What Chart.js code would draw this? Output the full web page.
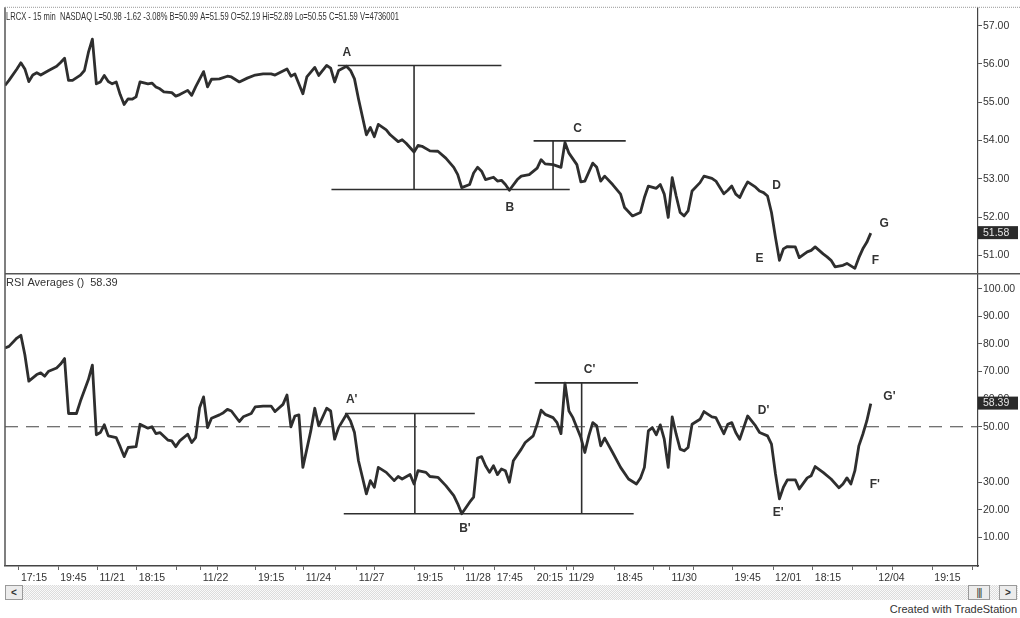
<!DOCTYPE html>
<html>
<head>
<meta charset="utf-8">
<title>LRCX - 15 min with RSI Averages</title>
<script src="https://cdn.jsdelivr.net/npm/chart.js@4.4.1/dist/chart.umd.min.js"></script>
<style>
  body { margin: 0; background: #fff; font-family: "Liberation Sans", Arial, sans-serif; }
  #wrap { position: relative; width: 1020px; height: 618px; overflow: hidden; }
  #chart { position: absolute; left: 0; top: 0; }
  #scroll { position: absolute; left: 5px; top: 585px; width: 1013px; height: 15px;
            background: repeating-conic-gradient(#dcdcdc 0 25%, #fafafa 0 50%) 0 0 / 2px 2px; }
  .btn { position: absolute; top: 0; width: 16px; height: 13px; border: 1px solid #9a9a9a;
         background: #ececec; font: bold 10px "Liberation Sans", Arial, sans-serif; color: #333;
         text-align: center; line-height: 13px; }
  #credit { position: absolute; right: 3px; top: 603px; font-size: 11px; color: #333; }
</style>
</head>
<body>
<div id="wrap">
  <canvas id="chart" width="1020" height="583"></canvas>
  <div id="scroll">
    <div class="btn" style="left:0">&lt;</div>
    <div class="btn" style="left:963px;width:20px;font-weight:normal;letter-spacing:-1px">|||</div>
    <div class="btn" style="left:994px">&gt;</div>
  </div>
  <div id="credit">Created with TradeStation</div>
</div>
<script>
// 15 min bars, numbered from the left edge of the chart
var priceBars = [0, 1, 3, 4, 5, 6, 7, 8, 9, 11, 13, 14, 15, 16, 17, 19, 20, 21, 22, 23,
    24, 25, 26, 27, 28, 29, 30, 31, 32, 33, 34, 36, 37, 38, 39, 40, 42, 43, 44, 46,
    47, 48, 50, 51, 52, 54, 56, 57, 59, 61, 63, 65, 67, 68, 71, 72, 73, 75, 76, 78,
    79, 81, 82, 83, 84, 86, 87, 88, 89, 91, 92, 93, 94, 96, 97, 99, 100, 101, 103, 104,
    105, 107, 109, 111, 113, 114, 115, 117, 118, 119, 120, 121, 123, 124, 125, 126, 127, 129, 130, 132,
    134, 135, 136, 138, 140, 141, 142, 144, 145, 146, 148, 149, 150, 151, 153, 155, 156, 158, 160, 161,
    162, 164, 165, 166, 167, 168, 169, 170, 171, 172, 173, 175, 176, 178, 179, 181, 182, 183, 184, 185,
    186, 187, 189, 190, 191, 192, 193, 194, 195, 196, 197, 199, 200, 202, 203, 204, 206, 207, 208, 209,
    211, 212, 214, 215, 216, 217, 218];
var priceClose = [55.44, 55.57, 55.87, 56.03, 55.87, 55.54, 55.71, 55.77, 55.71, 55.83, 55.94, 56.04, 56.15, 55.57, 55.57, 55.71, 55.83, 56.30, 56.65, 55.48,
    55.53, 55.70, 55.54, 55.48, 55.53, 55.20, 54.94, 55.09, 55.08, 55.14, 55.53, 55.48, 55.50, 55.40, 55.35, 55.27, 55.25, 55.16, 55.20, 55.31,
    55.18, 55.40, 55.80, 55.40, 55.60, 55.61, 55.68, 55.66, 55.53, 55.63, 55.71, 55.74, 55.74, 55.71, 55.87, 55.68, 55.74, 55.22, 55.66, 55.91,
    55.70, 55.96, 55.89, 55.53, 55.83, 55.94, 55.83, 55.61, 55.09, 54.15, 54.34, 54.10, 54.42, 54.28, 54.15, 53.97, 54.02, 53.93, 53.70, 53.87,
    53.85, 53.73, 53.72, 53.54, 53.30, 53.11, 52.77, 52.85, 53.15, 53.30, 53.20, 52.98, 53.04, 52.94, 52.96, 52.85, 52.70, 52.98, 53.07, 53.11,
    53.28, 53.50, 53.39, 53.37, 53.30, 53.95, 53.67, 53.37, 52.92, 52.94, 53.41, 53.30, 52.94, 53.07, 52.85, 52.60, 52.25, 52.03, 52.12, 52.51,
    52.81, 52.75, 52.85, 52.60, 51.99, 53.03, 52.55, 52.12, 52.03, 52.16, 52.68, 52.90, 53.07, 53.01, 52.94, 52.61, 52.70, 52.81, 52.60, 52.51,
    52.73, 52.92, 52.78, 52.68, 52.64, 52.55, 52.12, 51.47, 50.87, 51.17, 51.23, 51.22, 50.94, 51.09, 51.13, 51.22, 51.04, 50.96, 50.87, 50.70,
    50.74, 50.79, 50.66, 50.94, 51.17, 51.34, 51.58];

var rsiBars = [0, 1, 3, 4, 5, 6, 8, 9, 10, 11, 13, 14, 15, 16, 18, 19, 21, 22, 23, 24,
    25, 26, 28, 29, 30, 31, 33, 34, 36, 37, 38, 39, 41, 42, 43, 44, 46, 47, 48, 49,
    50, 51, 52, 54, 55, 56, 57, 59, 60, 62, 63, 65, 67, 68, 70, 71, 72, 73, 74, 75,
    77, 78, 79, 81, 82, 83, 84, 86, 87, 88, 89, 91, 92, 93, 94, 96, 98, 99, 100, 102,
    103, 104, 106, 107, 109, 111, 113, 114, 115, 117, 118, 119, 120, 121, 122, 123, 124, 125, 126, 127,
    128, 130, 131, 133, 134, 135, 136, 138, 139, 140, 141, 142, 143, 145, 146, 147, 148, 149, 150, 151,
    153, 155, 157, 159, 160, 161, 162, 163, 164, 165, 166, 167, 168, 169, 170, 171, 172, 173, 175, 176,
    178, 179, 181, 182, 183, 184, 185, 186, 187, 189, 190, 192, 193, 194, 195, 196, 197, 199, 200, 202,
    203, 204, 206, 208, 210, 211, 212, 213, 214, 215, 216, 217, 218];
var rsiValue = [78.5, 79.1, 82.1, 83.1, 76.1, 66.5, 68.9, 69.5, 68.3, 70.1, 71.3, 72.7, 74.7, 54.8, 54.8, 59.3, 67.1, 72.3, 47.1, 47.9,
    50.7, 46.7, 46.1, 42.8, 39.2, 42.5, 42.8, 50.9, 49.5, 50.0, 47.5, 47.9, 45.2, 44.9, 42.8, 44.9, 47.3, 44.3, 46.1, 56.9,
    60.8, 49.7, 53.1, 54.3, 55.1, 56.3, 55.7, 51.9, 53.6, 54.8, 57.2, 57.5, 57.5, 55.5, 58.1, 61.5, 50.0, 53.9, 54.3, 35.3,
    48.5, 56.7, 50.3, 56.7, 55.7, 45.5, 49.7, 54.5, 52.1, 47.9, 37.7, 25.7, 30.5, 28.1, 35.3, 33.5, 30.5, 32.0, 31.1, 32.7,
    29.3, 34.1, 33.5, 32.0, 31.7, 28.7, 25.1, 22.1, 18.5, 22.7, 24.5, 38.7, 39.2, 35.9, 33.5, 35.9, 32.7, 34.7, 34.1, 29.9,
    37.7, 41.9, 44.3, 46.7, 50.9, 56.0, 54.5, 53.3, 51.5, 47.5, 65.8, 55.7, 53.3, 46.1, 40.7, 46.7, 51.5, 50.3, 43.1, 45.9,
    40.7, 35.3, 31.1, 29.3, 31.4, 35.3, 48.5, 49.7, 47.1, 50.7, 45.5, 35.3, 53.6, 47.3, 41.9, 41.3, 42.5, 50.9, 52.7, 55.5,
    53.6, 53.3, 47.5, 50.9, 51.5, 47.9, 45.5, 49.7, 53.9, 50.3, 47.9, 46.7, 43.7, 33.0, 23.9, 28.1, 30.8, 30.8, 27.5, 31.5,
    32.3, 35.6, 33.5, 31.1, 27.9, 29.3, 31.5, 29.3, 34.1, 43.1, 47.3, 52.1, 58.39];

// time axis: tick positions (bars) and their labels
var timeTickBars = [3.5, 13.4, 23.3, 33.2, 43.2, 49.3, 53.4, 63.2, 73.2, 75.2, 83.1, 88.6, 93.1, 103.2, 113.3, 115.4,
    123.3, 133.4, 141.4, 143.2, 153.5, 163.4, 167.3, 173.3, 183.2, 193.4, 203.4, 213.4, 219.4, 223.5, 233.5, 243.5];
var timeTickLabels = ['17:15', '19:45', '11/21', '18:15', '', '11/22', '', '19:15', '', '11/24', '', '11/27', '', '19:15', '', '11/28',
    '17:45', '20:15', '11/29', '', '18:45', '', '11/30', '', '19:45', '12/01', '18:15', '', '12/04', '', '19:15', ''];

var priceTicks = [51, 51.5, 52, 52.5, 53, 53.5, 54, 54.5, 55, 55.5, 56, 56.5, 57];
var rsiTicks = [10, 20, 30, 50, 60, 70, 80, 90, 100];

var lastPrice = 51.58;
var lastRsi = 58.39;
var headerText = 'LRCX - 15 min  NASDAQ L=50.98 -1.62 -3.08% B=50.99 A=51.59 O=52.19 Hi=52.89 Lo=50.55 C=51.59 V=4736001';
var rsiTitle = 'RSI Averages ()  58.39';

// hand drawn measuring lines: [fromBar, toBar, fromLevel, toLevel]
var priceMarks = [
    [83.8, 125.0, 55.96, 55.96],
    [103.0, 103.0, 55.96, 52.72],
    [82.2, 142.2, 52.72, 52.72],
    [133.1, 156.3, 53.99, 53.99],
    [138.0, 138.0, 53.99, 52.72]
];
var rsiMarks = [
    [85.6, 118.3, 54.8, 54.8],
    [103.2, 103.2, 54.8, 18.5],
    [85.3, 158.3, 18.5, 18.5],
    [133.4, 159.4, 65.9, 65.9],
    [145.2, 145.2, 65.9, 18.5]
];
var rsiMidLine = 50;

// pivot letters
var priceLetters = ['A', 'B', 'C', 'D', 'E', 'F', 'G'];
var priceLetterBars = [86.1, 127.1, 144.2, 194.3, 190.0, 219.2, 221.4];
var priceLetterVals = [56.29, 52.24, 54.30, 52.81, 50.92, 50.86, 51.82];
var rsiLetters = ["A'", "B'", "C'", "D'", "E'", "F'", "G'"];
var rsiLetterBars = [87.3, 115.8, 147.2, 191.0, 194.7, 219.0, 222.7];
var rsiLetterVals = [59.7, 13.0, 70.8, 55.8, 19.0, 28.9, 61.0];

var INK = '#2e2e2e';
var FONT = '"Liberation Sans", Arial, sans-serif';

function toPoints(bars, vals) {
    return bars.map(function (b, i) { return { x: b, y: vals[i] }; });
}

function markSet(m, axis) {
    return {
        data: [{ x: m[0], y: m[2] }, { x: m[1], y: m[3] }],
        yAxisID: axis,
        borderColor: INK,
        borderWidth: 1.6,
        pointRadius: 0
    };
}

var datasets = [
    { label: 'LRCX', data: toPoints(priceBars, priceClose), yAxisID: 'y', borderColor: INK, borderWidth: 2.8, pointRadius: 0, borderJoinStyle: 'round' },
    { label: 'RSI', data: toPoints(rsiBars, rsiValue), yAxisID: 'y2', borderColor: INK, borderWidth: 2.8, pointRadius: 0, borderJoinStyle: 'round' },
    { label: 'mid', data: [{ x: 0, y: rsiMidLine }, { x: 245, y: rsiMidLine }], yAxisID: 'y2', borderColor: '#444', borderWidth: 1.2, borderDash: [13, 8], pointRadius: 0 }
];
priceMarks.forEach(function (m) { datasets.push(markSet(m, 'y')); });
rsiMarks.forEach(function (m) { datasets.push(markSet(m, 'y2')); });

// texts, frame and last value boxes
var decor = {
    id: 'decor',
    afterDraw: function (chart) {
        var ctx = chart.ctx, a = chart.chartArea;
        var x = chart.scales.x, yp = chart.scales.y, yr = chart.scales.y2;
        ctx.save();

        ctx.strokeStyle = '#555';
        ctx.lineWidth = 1.5;
        ctx.beginPath();
        ctx.moveTo(a.left, a.top); ctx.lineTo(a.left, a.bottom);
        ctx.moveTo(a.left, yr.top); ctx.lineTo(chart.width, yr.top);
        ctx.stroke();
        ctx.strokeStyle = '#999';
        ctx.lineWidth = 1;
        ctx.setLineDash([1, 1]);
        ctx.beginPath();
        ctx.moveTo(a.left, a.top); ctx.lineTo(chart.width, a.top);
        ctx.stroke();
        ctx.setLineDash([]);

        ctx.fillStyle = '#333';
        ctx.textBaseline = 'middle';
        ctx.textAlign = 'left';
        ctx.font = '11.5px ' + FONT;
        var w = ctx.measureText(headerText).width;
        ctx.save();
        ctx.translate(a.left + 1, a.top + 10);
        ctx.scale(Math.min(1, 393 / w), 1);
        ctx.fillText(headerText, 0, 0);
        ctx.restore();
        ctx.font = '11px ' + FONT;
        ctx.save();
        w = ctx.measureText(rsiTitle).width;
        ctx.translate(a.left + 1, yr.top + 9);
        ctx.scale(Math.min(1, 113 / w), 1);
        ctx.fillText(rsiTitle, 0, 0);
        ctx.restore();

        ctx.font = 'bold 12px ' + FONT;
        ctx.fillStyle = '#333';
        ctx.textAlign = 'center';
        priceLetters.forEach(function (t, i) {
            ctx.fillText(t, x.getPixelForValue(priceLetterBars[i]), yp.getPixelForValue(priceLetterVals[i]));
        });
        rsiLetters.forEach(function (t, i) {
            ctx.fillText(t, x.getPixelForValue(rsiLetterBars[i]), yr.getPixelForValue(rsiLetterVals[i]));
        });

        [[yp, lastPrice], [yr, lastRsi]].forEach(function (p) {
            var py = p[0].getPixelForValue(p[1]);
            ctx.fillStyle = '#2a2a2a';
            ctx.fillRect(a.right, py - 7, 40, 13);
            ctx.fillStyle = '#e4e4e4';
            ctx.font = '10.5px ' + FONT;
            ctx.textAlign = 'left';
            ctx.fillText(p[1].toFixed(2), a.right + 5, py);
        });
        ctx.restore();
    }
};

var tickFont = { family: FONT, size: 10.5 };

new Chart(document.getElementById('chart'), {
    type: 'line',
    data: { datasets: datasets },
    plugins: [decor],
    options: {
        responsive: false,
        animation: false,
        layout: { padding: { left: 5, top: 4, right: 0, bottom: 0 } },
        plugins: { legend: { display: false }, tooltip: { enabled: false } },
        elements: { line: { tension: 0 } },
        scales: {
            x: {
                type: 'linear',
                min: 0,
                max: 245,
                afterBuildTicks: function (s) { s.ticks = timeTickBars.map(function (v) { return { value: v }; }); },
                afterFit: function (s) { s.height = 17; },
                grid: { drawOnChartArea: false, tickLength: 4, tickColor: '#666' },
                border: { color: '#444', width: 1.5 },
                ticks: {
                    autoSkip: false, maxRotation: 0, align: 'start', labelOffset: 2, padding: 2,
                    color: '#333', font: tickFont,
                    callback: function (v, i) { return timeTickLabels[i]; }
                }
            },
            y: {
                type: 'linear',
                position: 'right',
                stack: 'panes',
                stackWeight: 268,
                min: 50.52,
                max: 57.48,
                afterBuildTicks: function (s) { s.ticks = priceTicks.map(function (v) { return { value: v }; }); },
                afterFit: function (s) { s.width = 42; },
                grid: { drawOnChartArea: false, tickLength: 4, tickColor: '#555' },
                border: { color: '#444', width: 1.2 },
                ticks: {
                    padding: 1, color: '#333', font: tickFont,
                    callback: function (v) { return Number.isInteger(v) ? v.toFixed(2) : ''; }
                }
            },
            y2: {
                type: 'linear',
                position: 'right',
                stack: 'panes',
                stackWeight: 294,
                min: -0.4,
                max: 105.4,
                afterBuildTicks: function (s) { s.ticks = rsiTicks.map(function (v) { return { value: v }; }); },
                afterFit: function (s) { s.width = 42; },
                grid: { drawOnChartArea: false, tickLength: 4, tickColor: '#555' },
                border: { color: '#444', width: 1.2 },
                ticks: {
                    padding: 1, color: '#333', font: tickFont,
                    callback: function (v) { return v.toFixed(2); }
                }
            }
        }
    }
});
</script>
</body>
</html>
